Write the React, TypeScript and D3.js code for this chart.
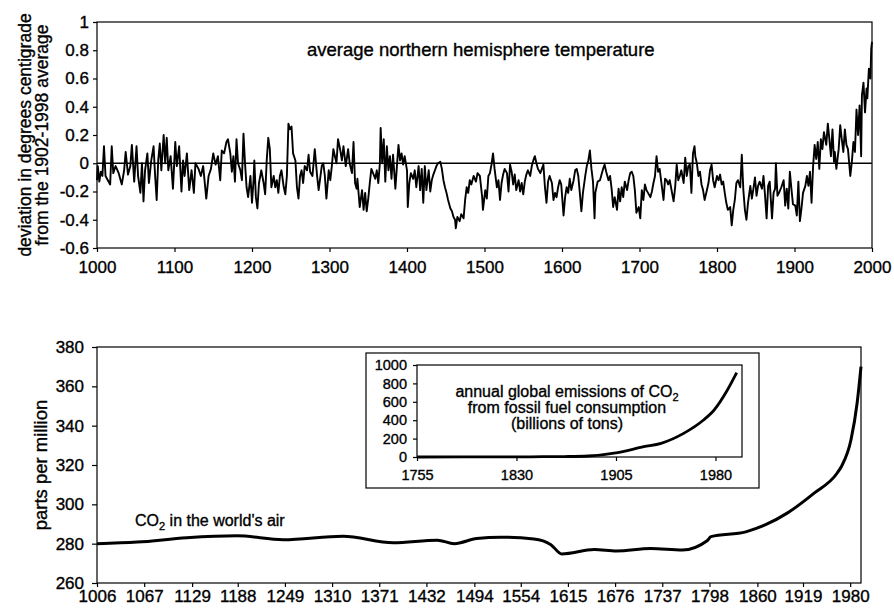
import * as d3 from "d3";
import { useEffect, useRef } from "react";

const FONT = "'Liberation Sans', Arial, Helvetica, sans-serif";

// northern hemisphere temperature, deviation from the 1902-1998 average, [year, °C]
const temp1000s: [number, number][] = [
  [1000, -0.12], [1001, -0.02], [1003, -0.13], [1005, -0.06], [1007, -0.09], [1009, 0.12], [1011, -0.09],
  [1014, -0.12], [1017, -0.15], [1019, 0.12], [1021, -0.07], [1024, -0.02], [1028, -0.07], [1032, -0.15],
  [1035, -0.05], [1037, 0.08], [1040, -0.08], [1043, -0.02], [1045, 0.13], [1048, -0.13], [1051, 0.12],
  [1053, -0.09], [1056, -0.21], [1058, 0.0], [1060, -0.27], [1062, -0.05], [1065, 0.07], [1067, -0.14],
  [1070, 0.02], [1073, 0.12], [1075, -0.09], [1077, -0.26], [1079, 0.02], [1081, 0.14], [1083, -0.05],
  [1086, 0.2], [1088, 0.0], [1090, 0.18], [1092, -0.05], [1095, 0.05], [1098, -0.18],
];
const temp1100s: [number, number][] = [
  [1101, 0.15], [1103, -0.02], [1106, 0.12], [1109, -0.2], [1111, 0.02], [1113, -0.09], [1116, 0.07],
  [1119, -0.19], [1122, -0.05], [1125, -0.21], [1127, 0.0], [1131, -0.04], [1134, -0.09], [1137, -0.02],
  [1141, -0.25], [1144, -0.09], [1147, -0.04], [1150, 0.07], [1153, -0.01], [1156, 0.05], [1159, -0.12],
  [1161, 0.09], [1164, 0.07], [1167, 0.15], [1169, 0.17], [1172, 0.07], [1174, -0.06], [1176, 0.05],
  [1178, -0.13], [1180, 0.17], [1182, 0.0], [1185, -0.05], [1187, -0.12], [1189, 0.21], [1191, 0.0],
  [1193, -0.17], [1195, -0.24], [1198, -0.09],
];
const temp1200s: [number, number][] = [
  [1200, -0.28], [1202, -0.12], [1203, 0.02], [1205, -0.24], [1207, -0.32], [1209, -0.14], [1212, -0.05],
  [1215, -0.14], [1217, -0.22], [1219, 0.02], [1221, 0.18], [1223, 0.1], [1225, -0.17], [1228, -0.09],
  [1230, -0.17], [1232, -0.12], [1234, -0.21], [1236, -0.09], [1238, -0.05], [1241, -0.17], [1243, -0.22],
  [1245, -0.09], [1247, 0.28], [1249, 0.24], [1251, 0.26], [1253, 0.07], [1256, 0.02], [1258, -0.17],
  [1260, -0.25], [1262, -0.09], [1264, -0.05], [1266, -0.14], [1268, -0.02], [1271, -0.05], [1273, 0.06],
  [1275, -0.06], [1278, -0.09], [1281, 0.1], [1284, -0.09], [1286, -0.19], [1290, -0.02], [1292, 0.0],
  [1294, -0.09], [1296, -0.25], [1299, -0.05],
];
const temp1300s: [number, number][] = [
  [1301, -0.12], [1303, -0.02], [1305, 0.1], [1307, 0.05], [1309, 0.0], [1311, 0.17], [1314, 0.09],
  [1316, 0.02], [1318, 0.12], [1321, -0.02], [1324, 0.1], [1326, 0.0], [1329, -0.07], [1331, 0.15],
  [1333, -0.14], [1335, -0.18], [1336, -0.11], [1339, -0.31], [1342, -0.19], [1344, -0.33], [1346, -0.21],
  [1348, -0.34], [1350, -0.25], [1352, -0.14], [1354, -0.04], [1357, -0.08], [1359, -0.11], [1361, -0.05],
  [1363, -0.14], [1365, 0.0], [1366, 0.25], [1368, 0.0], [1370, 0.17], [1372, -0.13], [1374, 0.12],
  [1376, -0.05], [1378, 0.05], [1380, -0.11], [1382, 0.06], [1385, -0.18], [1387, -0.02], [1389, 0.13],
  [1391, 0.02], [1393, 0.07], [1395, -0.01], [1397, 0.05],
];
const temp1400s: [number, number][] = [
  [1400, -0.05], [1401, -0.31], [1403, -0.14], [1405, -0.07], [1408, -0.11], [1410, -0.05], [1412, -0.17],
  [1415, -0.02], [1417, -0.19], [1419, -0.04], [1421, -0.28], [1423, -0.02], [1425, -0.19], [1428, -0.05],
  [1430, -0.2], [1432, -0.12], [1434, -0.08], [1436, -0.05], [1438, -0.02], [1440, 0.0], [1443, 0.01],
  [1445, -0.04], [1447, -0.12], [1449, -0.17], [1451, -0.21], [1453, -0.26], [1456, -0.32], [1458, -0.34],
  [1460, -0.38], [1462, -0.4], [1463, -0.46], [1465, -0.38], [1468, -0.41], [1470, -0.36], [1473, -0.39],
  [1475, -0.26], [1477, -0.17], [1479, -0.21], [1481, -0.12], [1483, -0.15], [1486, -0.09], [1489, -0.13],
  [1491, -0.07], [1494, -0.09], [1497, -0.24], [1498, -0.33],
];
const temp1500s: [number, number][] = [
  [1501, -0.19], [1503, -0.25], [1505, -0.09], [1507, -0.07], [1509, -0.01], [1511, 0.07], [1513, -0.04],
  [1516, -0.17], [1518, -0.12], [1520, -0.26], [1522, -0.14], [1524, -0.08], [1526, -0.04], [1529, -0.07],
  [1531, -0.2], [1533, -0.01], [1535, -0.06], [1537, -0.15], [1539, -0.08], [1541, -0.19], [1544, -0.12],
  [1546, -0.2], [1548, -0.14], [1550, -0.22], [1552, -0.13], [1554, -0.08], [1556, -0.05], [1559, -0.09],
  [1561, -0.02], [1563, 0.02], [1565, 0.05], [1567, 0.0], [1569, -0.04], [1572, -0.07], [1574, -0.04],
  [1576, -0.01], [1578, -0.17], [1580, -0.28], [1582, -0.13], [1584, -0.09], [1587, -0.14], [1589, -0.26],
  [1591, -0.21], [1593, -0.24], [1595, -0.17], [1597, -0.12], [1599, -0.15],
];
const temp1600s: [number, number][] = [
  [1602, -0.37], [1604, -0.24], [1606, -0.17], [1608, -0.21], [1610, -0.11], [1612, -0.19], [1615, -0.12],
  [1617, -0.05], [1619, -0.04], [1621, -0.09], [1623, -0.21], [1625, -0.34], [1627, -0.21], [1630, -0.09],
  [1632, -0.02], [1634, 0.02], [1636, 0.09], [1638, -0.04], [1640, -0.13], [1642, -0.39], [1643, -0.21],
  [1646, -0.13], [1649, -0.12], [1651, -0.08], [1653, -0.04], [1655, -0.01], [1657, -0.06], [1660, -0.12],
  [1662, -0.09], [1664, -0.18], [1666, -0.31], [1668, -0.24], [1671, -0.33], [1673, -0.18], [1675, -0.27],
  [1677, -0.17], [1679, -0.24], [1681, -0.13], [1684, -0.19], [1686, -0.12], [1688, -0.07], [1690, -0.06],
  [1692, -0.09], [1694, -0.19], [1696, -0.35], [1699, -0.31],
];
const temp1700s: [number, number][] = [
  [1701, -0.39], [1703, -0.19], [1705, -0.26], [1707, -0.15], [1709, -0.19], [1711, -0.21], [1714, -0.24],
  [1716, -0.2], [1718, -0.14], [1720, -0.09], [1722, 0.05], [1724, -0.06], [1726, -0.04], [1729, -0.17],
  [1731, -0.26], [1733, -0.11], [1735, -0.12], [1737, -0.15], [1739, -0.12], [1742, -0.21], [1744, -0.27],
  [1746, -0.17], [1748, -0.01], [1750, -0.12], [1752, -0.09], [1754, -0.05], [1757, -0.14], [1759, 0.04],
  [1761, -0.09], [1763, -0.02], [1765, -0.01], [1767, -0.21], [1769, 0.07], [1771, 0.12], [1772, 0.05],
  [1774, 0.0], [1776, -0.09], [1778, -0.06], [1780, -0.15], [1782, -0.19], [1784, -0.26], [1787, -0.19],
  [1789, -0.14], [1791, -0.05], [1793, -0.01], [1795, -0.12], [1797, -0.17],
];
const temp1800s: [number, number][] = [
  [1800, -0.09], [1802, -0.12], [1804, -0.08], [1806, -0.15], [1808, -0.13], [1810, -0.21], [1812, -0.28],
  [1814, -0.33], [1817, -0.31], [1819, -0.44], [1821, -0.33], [1823, -0.26], [1825, -0.14], [1827, -0.12],
  [1830, -0.17], [1832, 0.06], [1834, -0.19], [1836, -0.33], [1838, -0.4], [1840, -0.28], [1843, -0.16],
  [1845, -0.25], [1847, -0.18], [1849, -0.1], [1851, -0.23], [1853, -0.16], [1855, -0.13], [1858, -0.18],
  [1860, -0.09], [1862, -0.23], [1864, -0.39], [1866, -0.16], [1868, -0.13], [1871, -0.39], [1873, -0.21],
  [1875, -0.18], [1876, 0.0], [1878, -0.23], [1880, -0.21], [1883, -0.17], [1886, -0.12], [1888, -0.3],
  [1890, -0.18], [1892, -0.32], [1894, -0.06], [1896, -0.18], [1898, -0.29],
];
const temp1900s: [number, number][] = [
  [1901, -0.3], [1903, -0.37], [1905, -0.13], [1907, -0.41], [1909, -0.32], [1911, -0.21], [1914, -0.16],
  [1916, -0.09], [1918, -0.16], [1920, -0.06], [1922, -0.28], [1924, -0.02], [1926, 0.13], [1928, 0.03],
  [1930, 0.15], [1932, -0.04], [1934, 0.17], [1936, 0.1], [1938, 0.22], [1941, 0.13], [1943, 0.28],
  [1945, 0.17], [1947, 0.05], [1949, 0.24], [1951, 0.01], [1952, 0.08], [1954, -0.04], [1957, 0.1],
  [1959, 0.27], [1961, 0.17], [1963, 0.08], [1965, 0.24], [1967, 0.13], [1969, 0.1], [1972, -0.09],
  [1974, 0.01], [1976, 0.15], [1978, 0.08], [1980, 0.38], [1982, 0.2], [1984, 0.41], [1986, 0.05],
  [1987, 0.48], [1989, 0.57], [1991, 0.36], [1993, 0.53], [1994, 0.46], [1996, 0.67], [1998, 0.6],
  [1999, 0.81], [2000, 0.86],
];
const tempTicks = [-0.6, -0.4, -0.2, 0, 0.2, 0.4, 0.6, 0.8, 1];
const tempYearTicks = [1000, 1100, 1200, 1300, 1400, 1500, 1600, 1700, 1800, 1900, 2000];

// CO2 in the air, parts per million
const co2Years = [1006, 1058, 1122, 1187, 1247, 1324, 1389, 1446, 1468, 1497, 1528, 1571, 1593, 1607, 1649, 1678,
  1722, 1763, 1795, 1800, 1845, 1870, 1898, 1933, 1963, 1969, 1981, 1989, 1994];
const co2Ppm = [280, 280.8, 283, 284, 282, 283.8, 280.5, 281.8, 280, 282.6, 283.3, 282.4, 279.5, 274.8, 277, 276.3,
  277.5, 276.8, 281.5, 283.6, 286, 289.5, 295.4, 305.6, 315.8, 319.5, 332.7, 351.5, 370];
const co2Ticks = [260, 280, 300, 320, 340, 360, 380];
const co2YearLabels = [1006, 1067, 1129, 1188, 1249, 1310, 1371, 1432, 1494, 1554, 1615, 1676, 1737, 1798, 1860, 1919, 1980];

// inset: annual global emissions of CO2 from fossil fuel consumption
const emisYears = [1755, 1790, 1830, 1850, 1866, 1884, 1905, 1926, 1939, 1956, 1971, 1979, 1989, 1996];
const emisValues = [0, 1, 2, 3, 5, 11, 45, 112, 149, 257, 402, 511, 728, 916];
const emisTicks = [0, 200, 400, 600, 800, 1000];
const emisYearTicks = [1755, 1830, 1905, 1980];

// print-like weight: thin stroke on the glyphs
const inkText = (t: any) => t.attr("fill", "#000").attr("stroke", "#000").attr("stroke-width", 0.35);

const styleAxis = (g: any, size: number) => {
  g.attr("font-size", null).attr("font-family", null);
  g.select(".domain").remove();
  g.selectAll("line").attr("stroke", "#000").attr("stroke-width", 1.2);
  g.selectAll("text").attr("font-size", size).attr("font-family", FONT).call(inkText);
};

const App = () => {
  const ref = useRef<SVGSVGElement>(null);

  useEffect(() => {
    document.body.style.margin = "0";
    const svg = d3.select(ref.current);
    svg.selectAll("*").remove();

    // ---------- top: temperature ----------
    const tx = d3.scaleLinear().domain([1000, 2000]).range([97, 872]);
    const ty = d3.scaleLinear().domain([-0.6, 1]).range([248, 22]);

    svg.append("rect").attr("x", 97).attr("y", 22).attr("width", 872 - 97).attr("height", 248 - 22)
      .attr("fill", "none").attr("stroke", "#000").attr("stroke-width", 1.2);
    svg.append("line").attr("x1", tx(1000)).attr("x2", tx(2000)).attr("y1", ty(0)).attr("y2", ty(0))
      .attr("stroke", "#000").attr("stroke-width", 1.3);

    const temps = [...temp1000s, ...temp1100s, ...temp1200s, ...temp1300s, ...temp1400s,
      ...temp1500s, ...temp1600s, ...temp1700s, ...temp1800s, ...temp1900s];
    const tline = d3.line<[number, number]>().x((d) => tx(d[0])).y((d) => ty(d[1]));
    svg.append("path").attr("d", tline(temps)).attr("fill", "none").attr("stroke", "#000")
      .attr("stroke-width", 1.9).attr("stroke-linejoin", "round");

    svg.append("g").attr("transform", "translate(0,248)")
      .call(d3.axisBottom(tx).tickValues(tempYearTicks).tickFormat(d3.format("d")).tickSize(4).tickPadding(9))
      .call((g) => styleAxis(g, 17));
    svg.append("g").attr("transform", "translate(97,0)")
      .call(d3.axisLeft(ty).tickValues(tempTicks).tickFormat((d) => String(+(+d).toFixed(1))).tickSize(4).tickPadding(4))
      .call((g) => styleAxis(g, 17));

    svg.append("text").attr("x", 307).attr("y", 56).attr("font-family", FONT).attr("font-size", 18.5)
      .call(inkText).text("average northern hemisphere temperature");
    const ylab = svg.append("text").attr("transform", "translate(0,135) rotate(-90)")
      .attr("text-anchor", "middle").attr("font-family", FONT).attr("font-size", 17.5).call(inkText);
    ylab.append("tspan").attr("x", 0).attr("y", 31).text("deviation in degrees centigrade");
    ylab.append("tspan").attr("x", 0).attr("y", 48).text("from the 1902-1998 average");

    // ---------- bottom: CO2 ----------
    const cx = d3.scaleLinear().domain([1006, 1994]).range([97, 861]);
    const cy = d3.scaleLinear().domain([260, 380]).range([583, 347]);

    svg.append("rect").attr("x", 97).attr("y", 347).attr("width", 861 - 97).attr("height", 583 - 347)
      .attr("fill", "none").attr("stroke", "#000").attr("stroke-width", 1.2);

    const cline = d3.line<number>().x((d, i) => cx(co2Years[i])).y((d) => cy(d)).curve(d3.curveMonotoneX);
    svg.append("path").attr("d", cline(co2Ppm)).attr("fill", "none").attr("stroke", "#000")
      .attr("stroke-width", 3).attr("stroke-linejoin", "round");

    svg.append("g").attr("transform", "translate(0,583)")
      .call(d3.axisBottom(cx).tickValues(co2YearLabels).tickFormat(d3.format("d")).tickSize(4).tickPadding(3))
      .call((g) => styleAxis(g, 17));
    svg.append("g").attr("transform", "translate(97,0)")
      .call(d3.axisLeft(cy).tickValues(co2Ticks).tickSize(5).tickPadding(8))
      .call((g) => styleAxis(g, 17));

    svg.append("text").attr("transform", "translate(47,465) rotate(-90)").attr("text-anchor", "middle")
      .attr("font-family", FONT).attr("font-size", 18.5).call(inkText).text("parts per million");

    const co2lab = svg.append("text").attr("x", 135).attr("y", 526).attr("font-family", FONT)
      .attr("font-size", 16).call(inkText);
    co2lab.append("tspan").text("CO");
    co2lab.append("tspan").attr("font-size", 11).attr("dy", 4).text("2");
    co2lab.append("tspan").attr("dy", -4).text(" in the world's air");

    // ---------- inset: emissions ----------
    svg.append("rect").attr("x", 366).attr("y", 353).attr("width", 759 - 366).attr("height", 488 - 353)
      .attr("fill", "#fff").attr("stroke", "#000").attr("stroke-width", 1.2);

    const ex = d3.scaleLinear().domain([1755, 2000]).range([417, 742]);
    const ey = d3.scaleLinear().domain([0, 1000]).range([457, 365]);

    svg.append("rect").attr("x", 417).attr("y", 365).attr("width", 742 - 417).attr("height", 457 - 365)
      .attr("fill", "none").attr("stroke", "#000").attr("stroke-width", 1.2);

    const eline = d3.line<number>().x((d, i) => ex(emisYears[i])).y((d) => ey(d)).curve(d3.curveMonotoneX);
    svg.append("path").attr("d", eline(emisValues)).attr("fill", "none").attr("stroke", "#000")
      .attr("stroke-width", 2.8);

    svg.append("g").attr("transform", "translate(0,457)")
      .call(d3.axisBottom(ex).tickValues(emisYearTicks).tickFormat(d3.format("d")).tickSize(4).tickPadding(9))
      .call((g) => styleAxis(g, 14.5));
    svg.append("g").attr("transform", "translate(417,0)")
      .call(d3.axisLeft(ey).tickValues(emisTicks).tickFormat(d3.format("d")).tickSize(4).tickPadding(6))
      .call((g) => styleAxis(g, 14.5));

    const etxt = svg.append("text").attr("text-anchor", "middle").attr("font-family", FONT)
      .attr("font-size", 16).call(inkText);
    const l1 = etxt.append("tspan").attr("x", 567).attr("y", 397);
    l1.append("tspan").text("annual global emissions of CO");
    l1.append("tspan").attr("font-size", 11).attr("dy", 4).text("2");
    etxt.append("tspan").attr("x", 567).attr("y", 413).text("from fossil fuel consumption");
    etxt.append("tspan").attr("x", 567).attr("y", 429).text("(billions of tons)");
  }, []);

  return <svg ref={ref} width={894} height={610} style={{ display: "block", background: "#fff" }} />;
};

export default App;
